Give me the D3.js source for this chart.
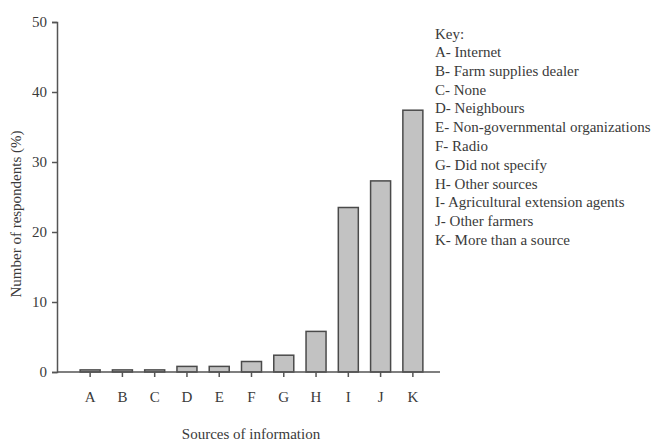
<!DOCTYPE html>
<html>
<head>
<meta charset="utf-8">
<script src="https://cdn.jsdelivr.net/npm/d3@7/dist/d3.min.js"></script>
<style>
  body { margin: 0; background: #fff; }
  svg text { font-family: "Liberation Serif", "Times New Roman", Times, serif; }
</style>
</head>
<body>
<div id="chart"></div>
<script>
'use strict';

var categories = ['A', 'B', 'C', 'D', 'E', 'F', 'G', 'H', 'I', 'J', 'K'];
var values = [0.3, 0.3, 0.3, 0.8, 0.8, 1.5, 2.4, 5.8, 23.5, 27.3, 37.4];
var yTicks = [0, 10, 20, 30, 40, 50];
var keyLabels = [
	'A- Internet',
	'B- Farm supplies dealer',
	'C- None',
	'D- Neighbours',
	'E- Non-governmental organizations',
	'F- Radio',
	'G- Did not specify',
	'H- Other sources',
	'I- Agricultural extension agents',
	'J- Other farmers',
	'K- More than a source'
];

var width = 653;
var height = 441;
var axisColor = '#555';
var textColor = '#3a3a3a';
var serif = '"Liberation Serif", "Times New Roman", Times, serif';

var svg = d3.select('#chart').append('svg')
	.attr('width', width)
	.attr('height', height)
	.style('display', 'block');

var x = d3.scaleBand()
	.domain(categories)
	.range([74, 429])
	.paddingInner(0.38)
	.paddingOuter(0.19);

var y = d3.scaleLinear()
	.domain([0, 50])
	.range([372, 22]);

// bars
svg.append('g')
	.attr('class', 'bars')
	.selectAll('rect')
	.data(values)
	.enter()
	.append('rect')
		.attr('x', function(d, i) { return x(categories[i]); })
		.attr('y', function(d) { return y(d); })
		.attr('width', x.bandwidth())
		.attr('height', function(d) { return y(0) - y(d); })
		.attr('fill', '#c2c2c2')
		.attr('stroke', '#4a4a4a')
		.attr('stroke-width', 1.5);

// y axis
var yAxis = svg.append('g')
	.attr('transform', 'translate(57,0)')
	.call(d3.axisLeft(y).tickValues(yTicks).tickSize(5).tickPadding(5));

// x axis
var xAxis = svg.append('g')
	.attr('transform', 'translate(0,' + y(0) + ')')
	.call(d3.axisBottom(x).tickSize(5).tickPadding(14).tickSizeOuter(0));

xAxis.select('.domain').remove();
svg.append('line')
	.attr('x1', 57).attr('x2', 440)
	.attr('y1', y(0)).attr('y2', y(0))
	.attr('stroke', axisColor)
	.attr('stroke-width', 1.5);

[yAxis, xAxis].forEach(function(a) {
	a.attr('font-family', serif);
	a.selectAll('path, line')
		.attr('stroke', axisColor)
		.attr('stroke-width', 1.5);
	a.selectAll('text')
		.attr('fill', textColor)
		.style('font-size', '15px');
});

// axis titles
svg.append('text')
	.attr('transform', 'translate(21,214) rotate(-90)')
	.attr('text-anchor', 'middle')
	.attr('fill', textColor)
	.style('font-size', '15px')
	.text('Number of respondents (%)');

svg.append('text')
	.attr('x', 251)
	.attr('y', 439)
	.attr('text-anchor', 'middle')
	.attr('fill', textColor)
	.style('font-size', '15px')
	.text('Sources of information');

// key
var key = svg.append('g')
	.attr('transform', 'translate(435,0)')
	.attr('fill', textColor)
	.style('font-size', '15px');

key.append('text')
	.attr('y', 39)
	.text('Key:');

key.selectAll('text.item')
	.data(keyLabels)
	.enter()
	.append('text')
		.attr('class', 'item')
		.attr('y', function(d, i) { return 57 + i * 18.8; })
		.text(function(d) { return d; });
</script>
</body>
</html>
